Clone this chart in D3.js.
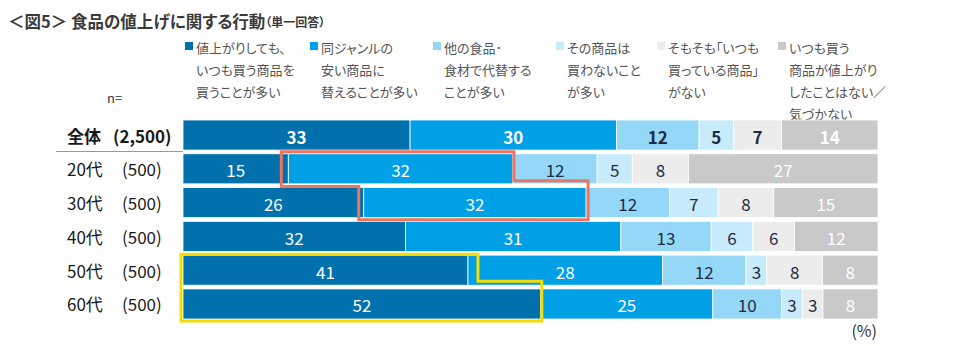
<!DOCTYPE html>
<html><head><meta charset="utf-8">
<script src="https://cdn.jsdelivr.net/npm/d3@7"></script>
<style>
body{margin:0;background:#fff;}
svg{font-family:"Noto Sans CJK JP","Noto Sans",sans-serif;font-feature-settings:"palt";}
</style></head>
<body><svg id="chart" width="960" height="346"></svg>
<script>
const categories = ["全体", "20代", "30代", "40代", "50代", "60代"];
const sampleSizes = ["(2,500)", "(500)", "(500)", "(500)", "(500)", "(500)"];
const seriesNames = [
  ["値上がりしても、", "いつも買う商品を", "買うことが多い"],
  ["同ジャンルの", "安い商品に", "替えることが多い"],
  ["他の食品･", "食材で代替する", "ことが多い"],
  ["その商品は", "買わないこと", "が多い"],
  ["そもそも「いつも", "買っている商品」", "がない"],
  ["いつも買う", "商品が値上がり", "したことはない／", "気づかない"]
];
const s1 = [33, 15, 26, 32, 41, 52];
const s2 = [30, 32, 32, 31, 28, 25];
const s3 = [12, 12, 12, 13, 12, 10];
const s4 = [5, 5, 7, 6, 3, 3];
const s5 = [7, 8, 8, 6, 8, 3];
const s6 = [14, 27, 15, 12, 8, 8];
const seriesValues = [s1, s2, s3, s4, s5, s6];
const colors = ["#0071ad", "#00a0e6", "#94d7f7", "#c8ebfb", "#ececec", "#c9c9c9"];
const labelColors = ["#ffffff", "#ffffff", "#1c2b45", "#1c2b45", "#1c2b45", "#ffffff"];
const title = "＜図5＞ 食品の値上げに関する行動";
const subTitle = "（単一回答）";

const svg = d3.select("#chart");
const x = d3.scaleLinear().domain([0, 1]).range([183, 878]);
const y = d3.scaleBand().domain(categories).range([120, 319]).paddingInner(0.11);

// title
const t = svg.append("text").attr("x", 8).attr("y", 21).attr("dominant-baseline", "central")
  .attr("fill", "#3a3a3a").attr("font-weight", "bold");
t.append("tspan").attr("font-size", 16.5).text(title);
t.append("tspan").attr("font-size", 12).text(subTitle);

// legend
const legendX = [185, 310, 433, 556, 657, 778];
seriesNames.forEach((lines, i) => {
  const g = svg.append("g");
  g.append("rect").attr("x", legendX[i]).attr("y", 42).attr("width", 8).attr("height", 8).attr("fill", colors[i]);
  lines.forEach((ln, j) => {
    g.append("text").attr("x", legendX[i] + 11).attr("y", 47 + j * 22)
      .attr("dominant-baseline", "central").attr("font-size", 13).attr("fill", "#555")
      .text(ln);
  });
});

svg.append("text").attr("x", 107).attr("y", 97).attr("dominant-baseline", "central")
  .attr("font-size", 13).attr("fill", "#333").text("n=");

// rows
categories.forEach((cat, r) => {
  const total = d3.sum(seriesValues, s => s[r]);
  let cum = 0;
  const bold = r === 0;
  const yc = y(cat) + y.bandwidth() / 2;
  svg.append("text").attr("x", 67).attr("y", yc).attr("dominant-baseline", "central")
    .attr("font-size", 17).attr("font-weight", bold ? "bold" : "normal").attr("fill", "#1a1a1a").text(cat);
  svg.append("text").attr("x", bold ? 113 : 122).attr("y", yc).attr("dominant-baseline", "central")
    .attr("font-size", 17).attr("font-weight", bold ? "bold" : "normal").attr("fill", "#1a1a1a").text(sampleSizes[r]);
  seriesValues.forEach((s, i) => {
    const v = s[r];
    const x0 = x(cum / total), x1 = x((cum + v) / total);
    cum += v;
    svg.append("rect").attr("x", x0).attr("y", y(cat)).attr("width", x1 - x0).attr("height", y.bandwidth())
      .attr("fill", colors[i]).attr("stroke", "#fff").attr("stroke-width", 0.8);
    svg.append("text").attr("x", (x0 + x1) / 2).attr("y", yc + 1).attr("text-anchor", "middle")
      .attr("dominant-baseline", "central").attr("font-size", 17)
      .attr("font-weight", bold ? "bold" : "normal").attr("fill", labelColors[i]).text(v);
  });
});

// separator under 全体
svg.append("line").attr("x1", 56).attr("x2", 183).attr("y1", 151.5).attr("y2", 151.5)
  .attr("stroke", "#999").attr("stroke-width", 1);

function segBounds(r, i) {
  const total = d3.sum(seriesValues, s => s[r]);
  const before = d3.sum(seriesValues.slice(0, i), s => s[r]);
  return [x(before / total), x((before + seriesValues[i][r]) / total)];
}
// highlight: 20代 & 30代 series 2
{
  const a = segBounds(1, 1), b = segBounds(2, 1);
  const top = y("20代") - 2, mid1 = y("20代") + y.bandwidth() - 3, mid2 = y("30代") - 1, bot = y("30代") + y.bandwidth() + 2;
  const pts = [[a[0] - 7, top], [a[1] + 1, top], [a[1] + 1, mid1], [b[1] + 2, mid1], [b[1] + 2, bot],
               [b[0] - 5, bot], [b[0] - 5, mid2], [a[0] - 7, mid2]];
  svg.append("path").attr("d", d3.line()(pts) + "Z").attr("fill", "none")
    .attr("stroke", "#ec7660").attr("stroke-width", 3);
}
// highlight: 50代 & 60代 series 1
{
  const a = segBounds(4, 0), b = segBounds(5, 0);
  const top = y("50代") - 1, mid = y("50代") + y.bandwidth() - 4, bot = y("60代") + y.bandwidth() + 2;
  const pts = [[a[0] - 2, top], [a[1] + 10, top], [a[1] + 10, mid], [b[1] + 1, mid], [b[1] + 1, bot], [a[0] - 2, bot]];
  svg.append("path").attr("d", d3.line()(pts) + "Z").attr("fill", "none")
    .attr("stroke", "#f6dc00").attr("stroke-width", 3);
}

svg.append("text").attr("x", 877).attr("y", 330).attr("text-anchor", "end").attr("dominant-baseline", "central")
  .attr("font-size", 16).attr("fill", "#333").text("(%)");
</script></body></html>
